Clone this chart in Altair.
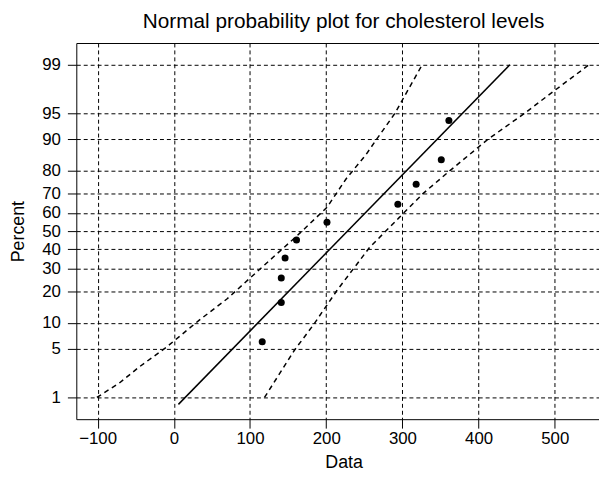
import altair as alt
import pandas as pd
from statistics import NormalDist

# ---- data ----
data_x = [116, 141, 141, 146, 161, 201, 294, 318, 351, 361]
data_pct = [6.1, 15.9, 25.6, 35.4, 45.1, 54.9, 64.6, 74.4, 84.1, 93.9]

fit_x = [6, 441]
fit_pct = [0.77, 99]

upper_x = [-101, -71, -45, -10, 33, 70, 119, 162, 201, 226, 252, 266, 290, 326]
upper_pct = [1.0, 1.7, 2.9, 5.2, 10.6, 17.2, 31.8, 47.5, 63, 76.7, 85.7, 90, 95, 99]

lower_x = [119, 158, 184, 214, 257, 296, 327, 362, 412, 460, 499, 545]
lower_pct = [1.0, 4.75, 9.7, 20.3, 41, 57.6, 70, 80, 90, 95, 97.5, 99]

pct_ticks = [1, 5, 10, 20, 30, 40, 50, 60, 70, 80, 90, 95, 99]
x_ticks = [-100, 0, 100, 200, 300, 400, 500]

nd = NormalDist()
def z(p):
    return nd.inv_cdf(p / 100.0)

pts = pd.DataFrame({"x": data_x, "z": [z(p) for p in data_pct]})
fit = pd.DataFrame({"x": fit_x, "z": [z(p) for p in fit_pct]})
bands = pd.concat([
    pd.DataFrame({"x": upper_x, "z": [z(p) for p in upper_pct], "band": "upper"}),
    pd.DataFrame({"x": lower_x, "z": [z(p) for p in lower_pct], "band": "lower"}),
])

FONT = "Liberation Sans"
xscale = alt.Scale(domain=[-128, 558], nice=False, zero=False)
yscale = alt.Scale(domain=[-2.63, 2.63], nice=False, zero=False)

xaxis = alt.Axis(values=x_ticks, tickCount=len(x_ticks), title="Data", grid=True,
                 gridColor="black", gridDash=[4, 3], gridWidth=1, tickSize=9,
                 labelPadding=3, titlePadding=7, titleX=270, labelOverlap=False)
yaxis = alt.Axis(values=[z(p) for p in pct_ticks], tickCount=len(pct_ticks),
                 title="Percent", grid=True, gridColor="black", gridDash=[4, 3],
                 gridWidth=1, tickSize=9, labelPadding=7, titlePadding=14,
                 labelOverlap=False,
                 labelExpr="format(cumulativeNormal(datum.value)*100, '.0f')")

points = alt.Chart(pts).mark_point(filled=True, color="black", size=50, opacity=1).encode(
    x=alt.X("x:Q", scale=xscale, axis=xaxis),
    y=alt.Y("z:Q", scale=yscale, axis=yaxis),
)

fitline = alt.Chart(fit).mark_line(color="black", strokeWidth=1.5).encode(
    x=alt.X("x:Q", scale=xscale,
            axis=alt.Axis(orient="top", labels=False, ticks=False, grid=False,
                          title=None, domain=True)),
    y=alt.Y("z:Q", scale=yscale, axis=yaxis),
)

bandlines = alt.Chart(bands).mark_line(color="black", strokeWidth=1.5,
                                       strokeDash=[5, 4]).encode(
    x=alt.X("x:Q", scale=xscale, axis=None),
    y=alt.Y("z:Q", scale=yscale, axis=yaxis),
    detail="band:N",
)

chart = alt.layer(bandlines, fitline, points).resolve_axis(x="independent").properties(
    width=528, height=380,
    title=alt.TitleParams("Normal probability plot for cholesterol levels",
                          fontSize=21, fontWeight="normal", font=FONT,
                          color="black", offset=11, dx=6),
    padding={"left": 2, "right": 0, "top": 1, "bottom": 0},
).configure_view(stroke=None).configure_axis(
    domainColor="black", domainWidth=1, tickColor="black", labelColor="black",
    labelFont=FONT, labelFontSize=17, titleFont=FONT, titleFontSize=18,
    titleFontWeight="normal", titleColor="black",
)

chart.save("out.html", embed_options={"renderer": "svg", "actions": False})
